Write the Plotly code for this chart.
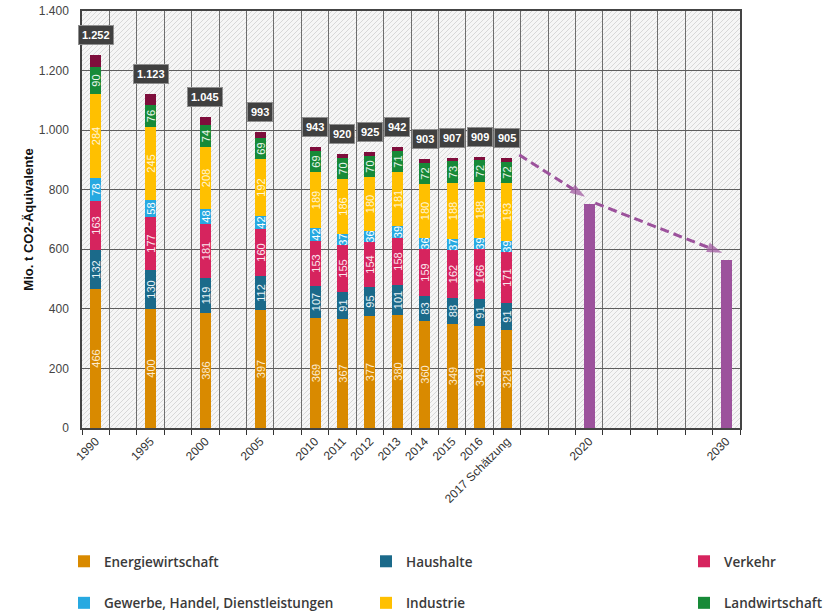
import plotly.graph_objects as go

# ---------------- data ----------------
years = ["1990", "1995", "2000", "2005", "2010", "2011", "2012", "2013",
         "2014", "2015", "2016", "2017 Schätzung"]
energie = [466, 400, 386, 397, 369, 367, 377, 380, 360, 349, 343, 328]
haushalte = [132, 130, 119, 112, 107, 91, 95, 101, 83, 88, 91, 91]
verkehr = [163, 177, 181, 160, 153, 155, 154, 158, 159, 162, 166, 171]
gewerbe = [78, 58, 48, 42, 42, 37, 36, 39, 36, 37, 39, 39]
industrie = [284, 245, 208, 192, 189, 186, 180, 181, 180, 188, 188, 193]
landwirtschaft = [90, 76, 74, 69, 69, 70, 70, 71, 72, 73, 72, 72]
sonstige = [39, 37, 29, 21, 14, 14, 13, 12, 13, 10, 10, 11]
totals = [1252, 1123, 1045, 993, 943, 920, 925, 942, 903, 907, 909, 905]
target_years = ["2020", "2030"]
targets = [751, 563]

# ---------------- layout constants ----------------
hist_slots = [0, 2, 4, 6, 8, 9, 10, 11, 12, 13, 14, 15]
target_slots = [18, 23]
N_SLOTS = 24
YMAX = 1400
FW, FH = 840, 613
ML, MR, MT, MB = 82, 100, 11, 185
PW, PH = FW - ML - MR, FH - MT - MB
PLOT_BOTTOM = FH - MB

C_EN = "#D98A00"
C_HH = "#1B6A8A"
C_VK = "#D6245E"
C_GW = "#27A9E1"
C_IN = "#FFC000"
C_LW = "#178A38"
C_SO = "#7E0E3C"
C_PU = "#9C529C"

fig = go.Figure()

series = [
    ("Energiewirtschaft", energie, C_EN, "legend", "#FCEBD0"),
    ("Haushalte", haushalte, C_HH, "legend2", "#EAF3F7"),
    ("Verkehr", verkehr, C_VK, "legend3", "#FBE7EE"),
    ("Gewerbe, Handel, Dienstleistungen", gewerbe, C_GW, "legend", "#FFFFFF"),
    ("Industrie", industrie, C_IN, "legend2", "#FFF6DA"),
    ("Landwirtschaft", landwirtschaft, C_LW, "legend3", "#E8F5EC"),
]

for name, vals, col, leg, tcol in series:
    fig.add_trace(go.Bar(
        x=hist_slots, y=vals, name=name, width=0.4,
        marker=dict(color=col, line=dict(width=0)),
        text=[str(v) for v in vals], textposition="inside",
        insidetextanchor="middle", textangle=-90, constraintext="none",
        textfont=dict(family="Liberation Sans, Arial, sans-serif", size=11, color=tcol),
        legend=leg, legendgroup=name, showlegend=True, hoverinfo="y+name",
    ))

fig.add_trace(go.Bar(
    x=hist_slots, y=sonstige, name="Sonstige", width=0.4,
    marker=dict(color=C_SO, line=dict(width=0)), showlegend=False,
))

fig.add_trace(go.Bar(
    x=target_slots, y=targets, name="Ziel", width=0.4,
    marker=dict(color=C_PU, line=dict(width=0)), showlegend=False,
))

# dashed arrows from the 2017 estimate to the targets
arrows = [
    ([hist_slots[-1] + 0.45, target_slots[0] - 0.15],
     [totals[-1] + 12, targets[0] + 25]),
    ([target_slots[0] + 0.22, target_slots[1] - 0.15],
     [targets[0] + 4, targets[1] + 25]),
]
for ax_, ay_ in arrows:
    fig.add_trace(go.Scatter(
        x=ax_, y=ay_, mode="lines+markers", showlegend=False, hoverinfo="skip",
        line=dict(color=C_PU, width=3, dash="9px,5px"),
        marker=dict(symbol=["circle", "arrow"], size=[0, 16], color=C_PU,
                    angleref="previous", line=dict(width=0)),
    ))

# total labels
for s, t in zip(hist_slots, totals):
    fig.add_annotation(
        x=s, y=t, yshift=20, showarrow=False,
        text=f"<b>{t:,}</b>".replace(",", "."),
        font=dict(family="Liberation Sans, Arial, sans-serif", size=11, color="white"),
        bgcolor="#404040", bordercolor="#8f8f8f", borderwidth=1, borderpad=3,
    )

# hatched background
step = 5
segs = []
for x0 in range(-PH, PW + step, step):
    xa = -0.5 + x0 / PW * N_SLOTS
    xb = -0.5 + (x0 + PH) / PW * N_SLOTS
    segs.append(f"M{xa:.4f},0 L{xb:.4f},{YMAX}")
fig.add_shape(type="path", path=" ".join(segs), xref="x", yref="y",
              layer="below", line=dict(color="#d0d0d0", width=0.8))

leg_common = dict(orientation="v", xanchor="left", yanchor="top",
                  traceorder="grouped", tracegroupgap=21,
                  bgcolor="rgba(0,0,0,0)",
                  font=dict(family="Open Sans, sans-serif", size=13.5, color="#3a3a3a",
                            weight=600))
ly = (PLOT_BOTTOM - 546) / PH
fig.update_layout(
    width=FW, height=FH,
    margin=dict(l=ML, r=MR, t=MT, b=MB, autoexpand=False),
    paper_bgcolor="white", plot_bgcolor="#f6f6f6",
    barmode="stack", bargap=0,
    separators=",.",
    showlegend=True,
    legend=dict(x=(64 - ML) / PW, y=ly, **leg_common),
    legend2=dict(x=(366 - ML) / PW, y=ly, **leg_common),
    legend3=dict(x=(684 - ML) / PW, y=ly, **leg_common),
    xaxis=dict(
        range=[-0.5, N_SLOTS - 0.5], tickmode="array",
        tickvals=hist_slots + target_slots, ticktext=years + target_years,
        tickangle=-45, ticks="", showgrid=False, zeroline=False,
        tickfont=dict(family="Liberation Sans, Arial, sans-serif", size=12, color="#333"),
        showline=True, linecolor="#444", linewidth=1.5, mirror=True,
        minor=dict(tickmode="linear", tick0=-0.5, dtick=1, ticks="outside",
                   ticklen=5, tickcolor="#333", showgrid=True,
                   gridcolor="#6e6e6e", gridwidth=1),
        fixedrange=True,
    ),
    yaxis=dict(
        range=[0, YMAX], tickmode="linear", tick0=0, dtick=200,
        tickformat=",d", ticks="", ticklabelstandoff=9,
        showgrid=True, gridcolor="#5e5e5e", gridwidth=1, zeroline=False,
        tickfont=dict(family="Liberation Sans, Arial, sans-serif", size=12, color="#444"),
        showline=True, linecolor="#444", linewidth=1.5, mirror=True,
        title=dict(text="Mio. t CO2-Äquivalente", standoff=2,
                   font=dict(family="Liberation Sans, Arial, sans-serif", size=13,
                             color="#111", weight="bold")),
        fixedrange=True,
    ),
)

# remove the default 8px page margin so the figure sits at the window origin
fig.write_html("out.html", config={"displayModeBar": False},
               post_script="document.body.style.margin='0';document.body.style.overflow='hidden';")
